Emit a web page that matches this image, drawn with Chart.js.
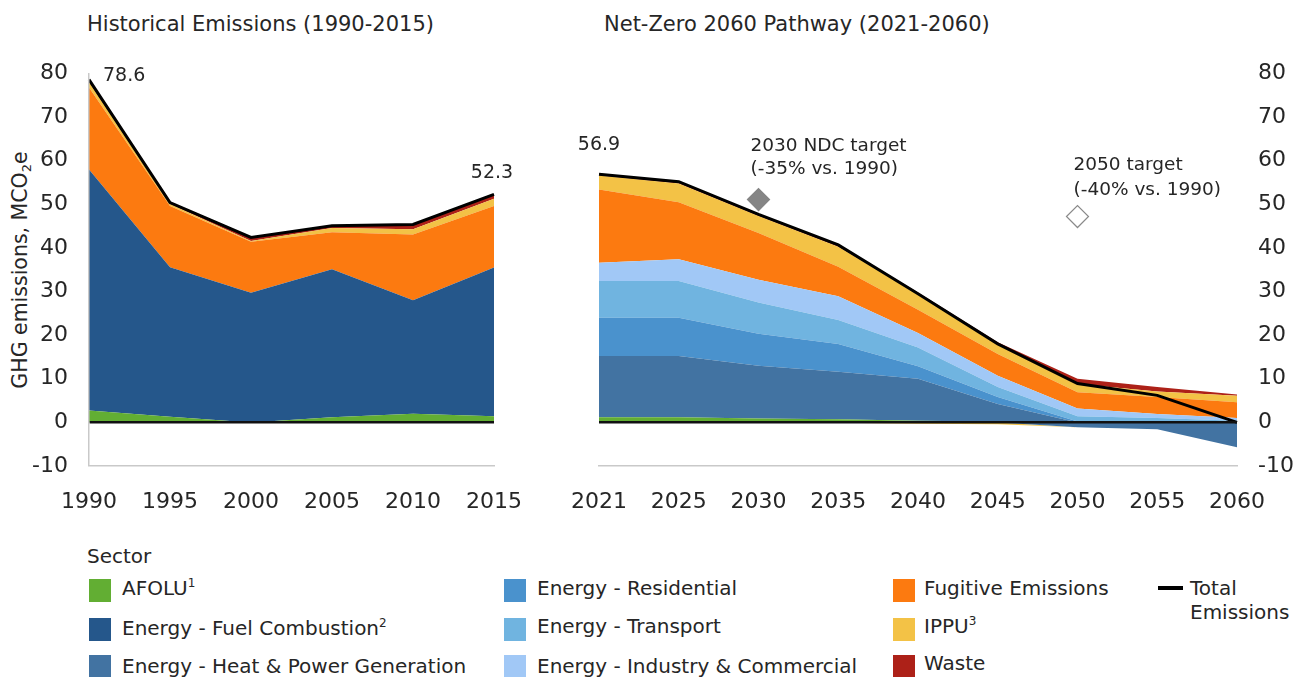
<!DOCTYPE html>
<html>
<head>
<meta charset="utf-8">
<script src="https://cdn.jsdelivr.net/npm/chart.js@4.4.1/dist/chart.umd.min.js"></script>
<style>
  body { margin: 0; width: 1295px; height: 677px; position: relative; overflow: hidden; background: #fff;
         font-family: "DejaVu Sans", sans-serif; color: #262626; }
  canvas { position: absolute; top: 0; }
  .titulo { position: absolute; top: 11px; font-size: 21px; line-height: 26px; white-space: nowrap; }
  .eixo { position: absolute; left: 20px; top: 270px; transform: translate(-50%, -50%) rotate(-90deg);
          font-size: 20.5px; white-space: nowrap; }
  .eixo sub { font-size: 13px; vertical-align: -4px; line-height: 0; }
  .leg { position: absolute; font-size: 20px; line-height: 24px; white-space: nowrap; }
  .leg sup { font-size: 12px; vertical-align: 8px; line-height: 0; }
  .cor { position: absolute; width: 22px; height: 23px; }
</style>
</head>
<body>
<div class="titulo" style="left:87px">Historical Emissions (1990-2015)</div>
<div class="titulo" style="left:604px">Net-Zero 2060 Pathway (2021-2060)</div>
<div class="eixo">GHG emissions, MCO<sub>2</sub>e</div>

<canvas id="graficoHistorico" width="545" height="530" style="left:0"></canvas>
<canvas id="graficoTrajetoria" width="750" height="530" style="left:545px"></canvas>

<!-- Legenda -->
<div class="leg" style="left:87px; top:544px">Sector</div>

<div class="cor" style="left:89px; top:579px; background:#62ae33"></div>
<div class="leg" style="left:122px; top:576px">AFOLU<sup>1</sup></div>
<div class="cor" style="left:89px; top:618px; background:#25578b"></div>
<div class="leg" style="left:122px; top:616px">Energy - Fuel Combustion<sup>2</sup></div>
<div class="cor" style="left:89px; top:655px; background:#4273a2"></div>
<div class="leg" style="left:122px; top:654px">Energy - Heat &amp; Power Generation</div>

<div class="cor" style="left:504px; top:579px; background:#4a92cd"></div>
<div class="leg" style="left:537px; top:576px">Energy - Residential</div>
<div class="cor" style="left:504px; top:618px; background:#70b4e0"></div>
<div class="leg" style="left:537px; top:614px">Energy - Transport</div>
<div class="cor" style="left:504px; top:655px; background:#a1c8f6"></div>
<div class="leg" style="left:537px; top:654px">Energy - Industry &amp; Commercial</div>

<div class="cor" style="left:893px; top:579px; background:#fc7a10"></div>
<div class="leg" style="left:924px; top:576px">Fugitive Emissions</div>
<div class="cor" style="left:893px; top:618px; background:#f3c246"></div>
<div class="leg" style="left:924px; top:614px">IPPU<sup>3</sup></div>
<div class="cor" style="left:893px; top:655px; background:#ad2118"></div>
<div class="leg" style="left:924px; top:651px">Waste</div>

<div style="position:absolute; left:1158px; top:586px; width:25px; height:4px; background:#000"></div>
<div class="leg" style="left:1190px; top:576px">Total<br>Emissions</div>

<script>
// Emissões históricas (MtCO2e)
const anosHist = ['1990', '1995', '2000', '2005', '2010', '2015'];
const afoluHist = [2.7, 1.3, 0.0, 1.2, 2.0, 1.4];
const combustaoHist = [55.3, 34.3, 29.7, 33.9, 26.0, 34.1];
const fugitivasHist = [18.8, 14.0, 11.7, 8.5, 15.1, 14.1];
const ippuHist = [1.2, 0.5, 0.2, 1.0, 1.2, 1.7];
const residuosHist = [0.6, 0.3, 0.8, 0.5, 1.1, 1.0];
const totalHist = [78.6, 50.4, 42.4, 45.1, 45.4, 52.3];

// Trajetória Net-Zero 2060
const anosTraj = ['2021', '2025', '2030', '2035', '2040', '2045', '2050', '2055', '2060'];
const afoluTraj = [1.2, 1.2, 0.9, 0.7, 0.4, 0.2, 0, 0, 0];
const calorTraj = [14.0, 14.0, 12.1, 10.9, 9.6, 4.0, -1.1, -1.6, -5.7];
const residencialTraj = [8.8, 8.8, 7.3, 6.4, 2.9, 1.6, 0.2, 0.2, 0.1];
const transporteTraj = [8.4, 8.4, 7.2, 5.5, 4.3, 2.3, 1.2, 0.8, 0.3];
const industriaTraj = [4.2, 5.0, 5.2, 5.4, 3.3, 2.6, 1.8, 0.9, 0.6];
const fugitivasTraj = [16.8, 13.1, 10.7, 6.8, 5.3, 5.0, 3.7, 3.9, 3.6];
const ippuTraj = [3.2, 4.3, 3.9, 4.6, 3.6, 2.3, 1.9, 1.3, 1.5];
const ippuAbaixoTraj = [0, 0, 0, -0.1, -0.3, -0.4, 0, 0, 0];
const residuosTraj = [0.3, 0.4, 0.4, 0.5, 0.4, 0.4, 1.2, 1.0, 0.3];
const totalTraj = [56.9, 55.2, 47.7, 40.7, 29.5, 18.0, 8.9, 6.2, 0];

// Metas
const metaNDC = { ano: '2030', valor: 51.1 };
const meta2050 = { ano: '2050', valor: 47.2 };

const cores = {
    afolu: '#62ae33',
    combustao: '#25578b',
    calor: '#4273a2',
    residencial: '#4a92cd',
    transporte: '#70b4e0',
    industria: '#a1c8f6',
    fugitivas: '#fc7a10',
    ippu: '#f3c246',
    residuos: '#ad2118'
};

const corTexto = '#262626';
const fonte = '"DejaVu Sans", sans-serif';

// Empilha as camadas separando parte positiva e negativa
function montarCamadas(camadas) {
    const datasets = [];
    const n = camadas[0].valores.length;
    let acumPos = new Array(n).fill(0);
    let acumNeg = new Array(n).fill(0);
    let ultimoPos = 'origin';
    let ultimoNeg = 'origin';
    camadas.forEach(c => {
        if (c.valores.some(v => v > 0)) {
            acumPos = acumPos.map((s, i) => s + Math.max(c.valores[i], 0));
            datasets.push({
                data: acumPos.slice(),
                backgroundColor: c.cor,
                borderWidth: 0,
                pointRadius: 0,
                fill: ultimoPos
            });
            ultimoPos = datasets.length - 1;
        }
        if (c.valores.some(v => v < 0)) {
            acumNeg = acumNeg.map((s, i) => s + Math.min(c.valores[i], 0));
            datasets.push({
                data: acumNeg.slice(),
                backgroundColor: c.cor,
                borderWidth: 0,
                pointRadius: 0,
                fill: ultimoNeg
            });
            ultimoNeg = datasets.length - 1;
        }
    });
    return datasets;
}

function linhaTotal(valores) {
    return {
        data: valores,
        borderColor: '#000',
        borderWidth: 3,
        pointRadius: 0,
        fill: false,
        order: -1
    };
}

function losango(labels, meta, cheio) {
    return {
        data: labels.map(a => a === meta.ano ? meta.valor : null),
        showLine: false,
        pointStyle: 'rectRot',
        pointRadius: 11,
        pointBackgroundColor: cheio ? '#858585' : '#fff',
        pointBorderColor: cheio ? '#858585' : '#8a8a8a',
        pointBorderWidth: 1.2,
        fill: false,
        order: -2
    };
}

// Textos presos aos pontos do gráfico
function pluginTextos(itens) {
    return {
        id: 'textos',
        afterDatasetsDraw(chart) {
            const ctx = chart.ctx;
            const sx = chart.scales.x;
            const sy = chart.scales.y;
            ctx.save();
            ctx.fillStyle = corTexto;
            ctx.textBaseline = 'middle';
            itens.forEach(it => {
                const px = sx.getPixelForValue(chart.data.labels.indexOf(it.ano));
                const py = sy.getPixelForValue(it.valor);
                ctx.font = it.tamanho + 'px ' + fonte;
                ctx.textAlign = it.alinhar;
                it.linhas.forEach((linha, k) => {
                    ctx.fillText(linha, px + it.dx, py + it.dy + k * it.entre);
                });
            });
            ctx.restore();
        }
    };
}

function opcoes(posY, larguraY, padding, bordaY) {
    return {
        responsive: false,
        maintainAspectRatio: false,
        animation: false,
        layout: { padding: padding },
        plugins: { legend: { display: false }, tooltip: { enabled: false }, title: { display: false } },
        elements: { line: { tension: 0 } },
        scales: {
            x: {
                offset: false,
                grid: { display: false, drawTicks: false },
                border: { display: true, color: '#c9c9c9', width: 1.5 },
                ticks: { color: corTexto, font: { family: fonte, size: 22 }, padding: 23, maxRotation: 0, autoSkip: false },
                afterFit: s => { s.height = 64; }
            },
            y: {
                position: posY,
                min: -10,
                max: 80,
                grid: {
                    z: 1,
                    drawTicks: false,
                    color: c => (c.tick && c.tick.value === 0) ? '#111' : 'rgba(0,0,0,0)',
                    lineWidth: c => (c.tick && c.tick.value === 0) ? 2.5 : 0
                },
                // a borda precisa vir na mesma camada da grade, senão sai em x = 0
                border: { display: bordaY, color: '#c9c9c9', width: 1.5, z: 1 },
                ticks: { stepSize: 10, color: corTexto, font: { family: fonte, size: 22 }, padding: 21 },
                afterFit: s => { s.width = larguraY; }
            }
        }
    };
}

// Gráfico histórico
const ctxHist = document.getElementById('graficoHistorico').getContext('2d');
new Chart(ctxHist, {
    type: 'line',
    data: {
        labels: anosHist,
        datasets: montarCamadas([
            { valores: afoluHist, cor: cores.afolu },
            { valores: combustaoHist, cor: cores.combustao },
            { valores: fugitivasHist, cor: cores.fugitivas },
            { valores: ippuHist, cor: cores.ippu },
            { valores: residuosHist, cor: cores.residuos }
        ]).concat([linhaTotal(totalHist)])
    },
    options: opcoes('left', 89, { left: 0, right: 30, top: 73.5, bottom: 0 }, true),
    plugins: [pluginTextos([
        { ano: '1990', valor: totalHist[0], linhas: [totalHist[0].toFixed(1)], dx: 14, dy: -4, entre: 0, alinhar: 'left', tamanho: 19 },
        { ano: '2015', valor: totalHist[5], linhas: [totalHist[5].toFixed(1)], dx: -2, dy: -21, entre: 0, alinhar: 'center', tamanho: 19 }
    ])]
});

// Gráfico da trajetória
const ctxTraj = document.getElementById('graficoTrajetoria').getContext('2d');
new Chart(ctxTraj, {
    type: 'line',
    data: {
        labels: anosTraj,
        datasets: montarCamadas([
            { valores: afoluTraj, cor: cores.afolu },
            { valores: calorTraj, cor: cores.calor },
            { valores: residencialTraj, cor: cores.residencial },
            { valores: transporteTraj, cor: cores.transporte },
            { valores: industriaTraj, cor: cores.industria },
            { valores: fugitivasTraj, cor: cores.fugitivas },
            { valores: ippuTraj, cor: cores.ippu },
            { valores: ippuAbaixoTraj, cor: cores.ippu },
            { valores: residuosTraj, cor: cores.residuos }
        ]).concat([
            linhaTotal(totalTraj),
            losango(anosTraj, metaNDC, true),
            losango(anosTraj, meta2050, false)
        ])
    },
    options: opcoes('right', 58, { left: 54, right: 0, top: 73.5, bottom: 0 }, false),
    plugins: [pluginTextos([
        { ano: '2021', valor: totalTraj[0], linhas: [totalTraj[0].toFixed(1)], dx: 0, dy: -29, entre: 0, alinhar: 'center', tamanho: 19 },
        { ano: metaNDC.ano, valor: metaNDC.valor, linhas: ['2030 NDC target', '(-35% vs. 1990)'], dx: -8, dy: -53, entre: 23, alinhar: 'left', tamanho: 18.5 },
        { ano: meta2050.ano, valor: meta2050.valor, linhas: ['2050 target', '(-40% vs. 1990)'], dx: -4, dy: -51, entre: 25, alinhar: 'left', tamanho: 18.5 }
    ])]
});
</script>
</body>
</html>
